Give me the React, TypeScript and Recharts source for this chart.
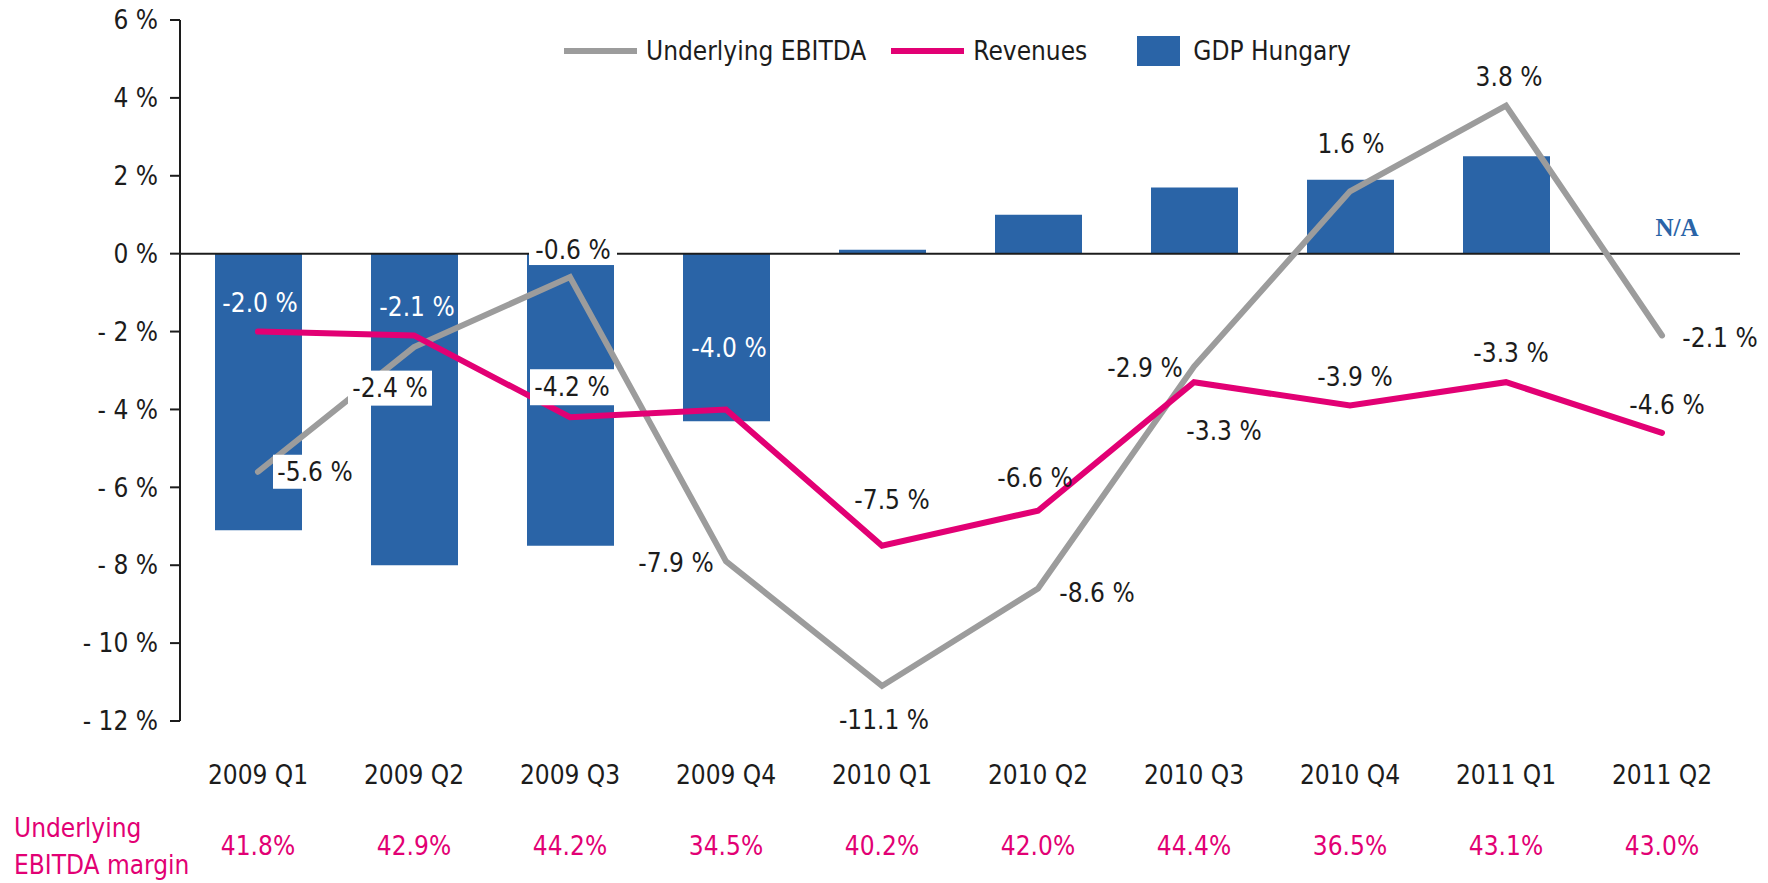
import {
  Bar,
  ComposedChart,
  LabelList,
  Legend,
  Line,
  ReferenceDot,
  ReferenceLine,
  XAxis,
  YAxis,
} from "recharts";

const FONT = "'Liberation Sans Narrow', 'DejaVu Sans Condensed', 'Liberation Sans', sans-serif";
const FS = 26;
const INK = "#1c1c1c";
const GREY = "#9c9c9c";
const MAGENTA = "#e20074";
const BLUE = "#2a64a7";

const quarters = [
  "2009 Q1", "2009 Q2", "2009 Q3", "2009 Q4", "2010 Q1",
  "2010 Q2", "2010 Q3", "2010 Q4", "2011 Q1", "2011 Q2",
];
const gdpHungary = [-7.1, -8.0, -7.5, -4.3, 0.1, 1.0, 1.7, 1.9, 2.5, null];
const revenues = [-2.0, -2.1, -4.2, -4.0, -7.5, -6.6, -3.3, -3.9, -3.3, -4.6];
const underlyingEbitda = [-5.6, -2.4, -0.6, -7.9, -11.1, -8.6, -2.9, 1.6, 3.8, -2.1];
const ebitdaMargin = [41.8, 42.9, 44.2, 34.5, 40.2, 42.0, 44.4, 36.5, 43.1, 43.0];
const yTicks = [6, 4, 2, 0, -2, -4, -6, -8, -10, -12];
const legendOrder = ["Underlying EBITDA", "Revenues", "GDP Hungary"];

const data = quarters.map((quarter, i) => ({
  quarter,
  gdp: gdpHungary[i],
  revenues: revenues[i],
  ebitda: underlyingEbitda[i],
}));

// where each value label sits relative to its point (text centre), optional white box behind it
type Place = { dx: number; dy: number; box?: [number, number]; white?: boolean };

const ebitdaPlace: Place[] = [
  { dx: 57, dy: 0, box: [84, 34] },
  { dx: -24, dy: 41, box: [84, 35] },
  { dx: 3, dy: -27, box: [88, 30] },
  { dx: -50, dy: 2 },
  { dx: 2, dy: 34 },
  { dx: 59, dy: 4 },
  { dx: -49, dy: 1 },
  { dx: 1, dy: -47 },
  { dx: 3, dy: -29 },
  { dx: 58, dy: 3 },
];

const revenuePlace: Place[] = [
  { dx: 2, dy: -29, white: true },
  { dx: 3, dy: -28, white: true },
  { dx: 2, dy: -30, box: [84, 36] },
  { dx: 3, dy: -61, white: true },
  { dx: 10, dy: -46 },
  { dx: -3, dy: -33 },
  { dx: 30, dy: 49 },
  { dx: 5, dy: -29 },
  { dx: 5, dy: -29 },
  { dx: 5, dy: -28 },
];

const pct = (v: number) => `${v.toFixed(1)} %`;
const yFmt = (v: number) => (v < 0 ? `- ${Math.abs(v)} %` : `${v} %`);

const valueLabel = (place: Place[]) => (props: any) => {
  const { x, y, value, index } = props;
  const p = place[index];
  if (!p || value == null) return null;
  const cx = Number(x) + p.dx;
  const cy = Number(y) + p.dy;
  return (
    <g>
      {p.box && (
        <rect x={cx - p.box[0] / 2} y={cy - p.box[1] / 2} width={p.box[0]} height={p.box[1]} fill="#ffffff" />
      )}
      <text
        x={cx}
        y={cy}
        textAnchor="middle"
        dominantBaseline="central"
        fontSize={FS}
        fontFamily={FONT}
        fill={p.white ? "#ffffff" : INK}
      >
        {pct(Number(value))}
      </text>
    </g>
  );
};

function QuarterTick(props: any) {
  const { x, y, payload } = props;
  const i = quarters.indexOf(payload.value);
  return (
    <g>
      <text x={x} y={y + 54} textAnchor="middle" dominantBaseline="central" fontSize={FS} fontFamily={FONT} fill={INK}>
        {payload.value}
      </text>
      <text x={x} y={y + 125} textAnchor="middle" dominantBaseline="central" fontSize={FS} fontFamily={FONT} fill={MAGENTA}>
        {`${ebitdaMargin[i].toFixed(1)}%`}
      </text>
    </g>
  );
}

function LegendContent(props: any) {
  const items = [...(props.payload || [])].sort(
    (a: any, b: any) => legendOrder.indexOf(a.value) - legendOrder.indexOf(b.value)
  );
  return (
    <div style={{ display: "flex", alignItems: "center", fontFamily: FONT, fontSize: FS, color: INK, lineHeight: "36px" }}>
      {items.map((item: any, i: number) => (
        <div key={item.value} style={{ display: "flex", alignItems: "center", marginRight: i === 0 ? 25 : 50 }}>
          {item.type === "rect" ? (
            <div style={{ width: 43, height: 30, background: item.color, marginRight: 13 }} />
          ) : (
            <div style={{ width: 73, height: 6, background: item.color, marginRight: 9 }} />
          )}
          <span>{item.value}</span>
        </div>
      ))}
    </div>
  );
}

export default function App() {
  return (
    <div style={{ position: "absolute", left: 0, top: 0, width: 1768, height: 883, background: "#ffffff" }}>
      <ComposedChart width={1768} height={883} data={data} margin={{ top: 20, right: 28, bottom: 0, left: 0 }}>
        <XAxis
          dataKey="quarter"
          height={162}
          axisLine={false}
          tickLine={false}
          tickSize={0}
          tickMargin={0}
          interval={0}
          tick={<QuarterTick />}
        />
        <YAxis
          type="number"
          domain={[-12, 6]}
          ticks={yTicks}
          interval={0}
          width={180}
          axisLine={{ stroke: INK, strokeWidth: 2 }}
          tickLine={{ stroke: INK, strokeWidth: 2 }}
          tickSize={10}
          tickMargin={12}
          tick={{ fill: INK, fontSize: FS, fontFamily: FONT }}
          tickFormatter={yFmt}
        />
        <Legend
          layout="horizontal"
          verticalAlign="middle"
          align="center"
          wrapperStyle={{ top: 33, left: 564, width: 1000 }}
          content={<LegendContent />}
        />
        <Bar dataKey="gdp" name="GDP Hungary" fill={BLUE} barSize={87} isAnimationActive={false} />
        <ReferenceLine y={0} stroke={INK} strokeWidth={2} />
        <Line
          type="linear"
          dataKey="ebitda"
          name="Underlying EBITDA"
          stroke={GREY}
          strokeWidth={6}
          strokeLinecap="round"
          dot={false}
          activeDot={false}
          isAnimationActive={false}
        >
          <LabelList dataKey="ebitda" content={valueLabel(ebitdaPlace)} />
        </Line>
        <Line
          type="linear"
          dataKey="revenues"
          name="Revenues"
          stroke={MAGENTA}
          strokeWidth={6}
          strokeLinecap="round"
          dot={false}
          activeDot={false}
          isAnimationActive={false}
        >
          <LabelList dataKey="revenues" content={valueLabel(revenuePlace)} />
        </Line>
        <ReferenceDot
          x="2011 Q2"
          y={0}
          r={0}
          shape={(p: any) => (
            <text
              x={p.cx + 15}
              y={p.cy - 26}
              textAnchor="middle"
              dominantBaseline="central"
              fontSize={25}
              fontWeight="bold"
              fontFamily="'Liberation Serif', 'DejaVu Serif', serif"
              fill={BLUE}
            >
              N/A
            </text>
          )}
        />
      </ComposedChart>
      <div
        style={{
          position: "absolute",
          left: 14,
          top: 810,
          color: MAGENTA,
          fontFamily: FONT,
          fontSize: FS,
          lineHeight: "37px",
        }}
      >
        Underlying
        <br />
        EBITDA margin
      </div>
    </div>
  );
}
